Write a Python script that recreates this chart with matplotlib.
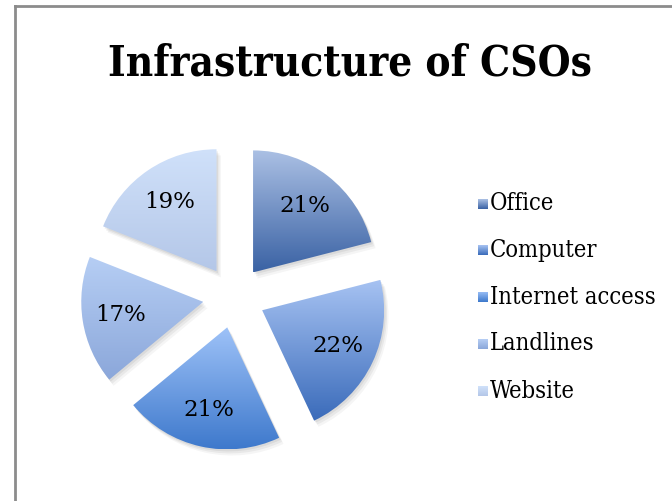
import numpy as np
import matplotlib
matplotlib.use("Agg")
import matplotlib.pyplot as plt
from matplotlib.patches import Wedge
from matplotlib.colors import LinearSegmentedColormap
from matplotlib.lines import Line2D

title = "Infrastructure of CSOs"
categories = ["Office", "Computer", "Internet access", "Landlines", "Website"]
shares = [21, 22, 21, 17, 19]
# top / bottom colours of each slice's vertical gradient
top_colors = ["#abc0e4", "#a6c2f2", "#9ec2f8", "#b6cef4", "#d0e1fa"]
bottom_colors = ["#3a62a4", "#3a6bba", "#3e79cc", "#8ba7da", "#b4c7e8"]

W, H = 672, 501
fig = plt.figure(figsize=(W / 100, H / 100), dpi=100)
fig.patch.set_facecolor("white")

# chart frame (left and top edges)
fig.add_artist(Line2D([14.5 / W, 14.5 / W], [0, 1 - 6 / H], color="#8c8c8c", lw=2))
fig.add_artist(Line2D([14.5 / W, 1], [1 - 6 / H, 1 - 6 / H], color="#8c8c8c", lw=2))

fig.text(350 / W, 1 - 75 / H, title, ha="center", va="baseline",
         fontsize=30.3, fontweight="bold", family="DejaVu Serif", stretch="condensed")

cx, cy, rpx = 234, 297, 122
half = 200
ax = fig.add_axes([(cx - half) / W, (H - cy - half) / H, 2 * half / W, 2 * half / H])
lim = half / rpx

wedges, texts, autotexts = ax.pie(
    shares, startangle=90, counterclock=False, explode=[0.255] * len(shares),
    autopct="%d%%", pctdistance=0.69,
    textprops=dict(family="DejaVu Serif", fontsize=16.5, color="black"),
    wedgeprops=dict(linewidth=0))

for w, c_top, c_bot in zip(wedges, top_colors, bottom_colors):
    w.set_facecolor("none")
    # soft drop shadow
    for k, a in enumerate([0.06, 0.05, 0.04]):
        s = 0.012 * (k + 1)
        sh = Wedge((w.center[0] + s, w.center[1] - 1.4 * s), w.r, w.theta1, w.theta2,
                   facecolor="black", alpha=a, linewidth=0, zorder=0.5)
        ax.add_patch(sh)
    bb = w.get_path().get_extents()
    cmap = LinearSegmentedColormap.from_list("g", [c_bot, c_top])
    grad = np.linspace(0, 1, 256).reshape(-1, 1)
    im = ax.imshow(grad, cmap=cmap, origin="lower", aspect="auto",
                   extent=[bb.x0, bb.x1, bb.y0, bb.y1], zorder=1)
    im.set_clip_path(w)

for t in autotexts:
    t.set_zorder(3)

ax.set_xlim(-lim, lim)
ax.set_ylim(-lim, lim)
ax.axis("off")

# legend with gradient swatches
rows_y = [204, 250, 297, 344, 391]
for name, yv, c_top, c_bot in zip(categories, rows_y, top_colors, bottom_colors):
    sq = fig.add_axes([478 / W, (H - yv - 5) / H, 10 / W, 10 / H])
    cmap = LinearSegmentedColormap.from_list("g", [c_bot, c_top])
    sq.imshow(np.linspace(0, 1, 32).reshape(-1, 1), cmap=cmap, origin="lower", aspect="auto")
    sq.axis("off")
    fig.text(490 / W, 1 - yv / H, name, ha="left", va="center",
             fontsize=17, family="DejaVu Serif", stretch="condensed")

fig.savefig("out.png", dpi=100, facecolor="white")
